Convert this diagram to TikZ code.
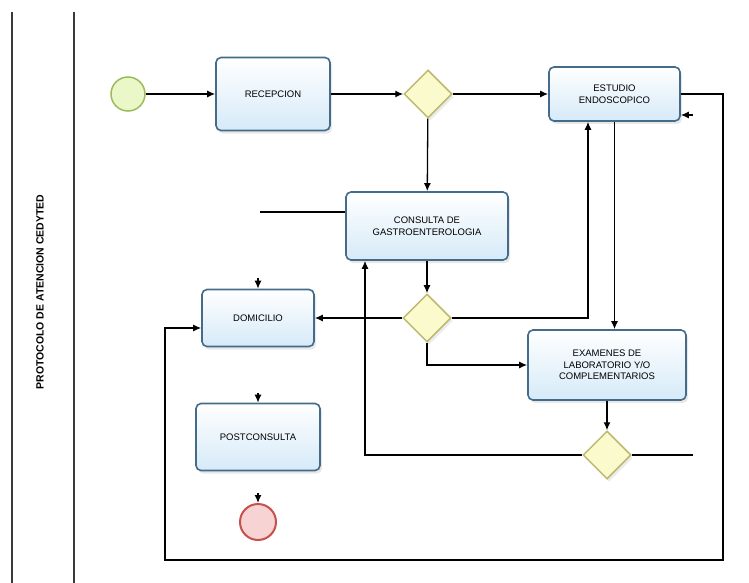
\documentclass[tikz,border=0pt]{standalone}
\usepackage{fontspec}
\setmainfont{Liberation Sans}
\usetikzlibrary{arrows.meta,shapes.geometric,shadows}
\definecolor{taskborder}{HTML}{446C8A}
\definecolor{taskfill}{HTML}{D6EAF8}
\definecolor{gwfill}{HTML}{FAFACC}
\definecolor{gwborder}{HTML}{BDB96E}
\definecolor{stfill}{HTML}{EAF7C9}
\definecolor{stborder}{HTML}{9DBB5B}
\definecolor{enfill}{HTML}{F8D3D3}
\definecolor{enborder}{HTML}{C8504A}
\definecolor{lanecol}{HTML}{3A3A3A}
\begin{document}
\begin{tikzpicture}[x=1pt,y=-1pt,
  task/.style={draw=taskborder, line width=1.6pt, rounded corners=5pt,
    top color=white, bottom color=taskfill, align=center, inner sep=0pt,
    font=\fontsize{9.5}{11.5}\selectfont,
    drop shadow={opacity=0.18, shadow xshift=2pt, shadow yshift=-3pt}},
  gateway/.style={diamond, draw=gwborder, line width=1.5pt, fill=gwfill,
    minimum width=48pt, minimum height=48pt, inner sep=0pt,
    drop shadow={opacity=0.15, shadow xshift=2pt, shadow yshift=-3pt}},
  startev/.style={circle, draw=stborder, line width=1.5pt, fill=stfill,
    minimum size=34pt, inner sep=0pt},
  endev/.style={circle, draw=enborder, line width=2pt, fill=enfill,
    minimum size=36pt, inner sep=0pt},
  flow/.style={draw=black, line width=1.3pt, -{Latex[length=8pt,width=7pt]}},
  plain/.style={draw=black, line width=1.3pt},
  lane/.style={draw=lanecol, line width=1.8pt}]
\useasboundingbox (0,0) rectangle (749,583);
\fill[white] (0,0) rectangle (749,583);

% lane
\draw[lane] (12,12) -- (12,583);
\draw[lane] (74,12) -- (74,583);
\node[rotate=90, font=\bfseries\fontsize{10.5}{12}\selectfont] (lanetitle) at (40,292) {PROTOCOLO DE ATENCION CEDYTED};

% nodes
\node[startev] (start) at (128,94) {};
\node[task, minimum width=114pt, minimum height=73pt] (rec) at (273,94) {RECEPCION};
\node[gateway] (g1) at (428,94) {};
\node[task, minimum width=131pt, minimum height=54pt] (est) at (614.5,94) {ESTUDIO\\ENDOSCOPICO};
\node[task, minimum width=162pt, minimum height=68pt] (cons) at (427,226) {CONSULTA DE\\GASTROENTEROLOGIA};
\node[task, minimum width=112pt, minimum height=57pt] (dom) at (258,318) {DOMICILIO};
\node[gateway] (g2) at (427,318) {};
\node[task, minimum width=158pt, minimum height=70pt] (exa) at (607,365) {EXAMENES DE\\LABORATORIO Y/O\\COMPLEMENTARIOS};
\node[gateway] (g3) at (607,455) {};
\node[task, minimum width=124pt, minimum height=67pt] (post) at (258,437) {POSTCONSULTA};
\node[endev] (end) at (258,522) {};

% free ends
\coordinate (rr) at (723,94);
\coordinate (rb) at (723,560);
\coordinate (lb) at (165,560);
\coordinate (g3free) at (693,455);
\coordinate (consfree) at (260,212);
\coordinate (domstub) at (258,278);
\coordinate (poststub) at (258,393);
\coordinate (endstub) at (258,493);
\coordinate (eststub) at (693,115);

% connectors
\draw[flow] (start) -- (rec);
\draw[flow] (rec) -- (g1);
\draw[flow] (g1) -- (est);
\draw[flow] (g1) -- (cons);
\draw[flow] (est.east) -- (rr) -- (rb) -- (lb) |- ([yshift=-10pt]dom.west);
\draw[flow] (est.south) -- (est.south |- exa.north);
\draw[flow] (g2.east) -| ([xshift=-26.5pt]est.south);
\draw[flow] (cons) -- (g2);
\draw[flow] (g2) -- (dom);
\draw[flow] (g2.south) |- (exa.west);
\draw[flow] (exa) -- (g3);
\draw[flow] (g3.west) -| ([xshift=-62pt]cons.south);
\draw[plain] (g3.east) -- (g3free);
\draw[plain] (cons.west |- consfree) -- (consfree);
\draw[flow] (domstub) -- (dom.north);
\draw[flow] (poststub) -- (post.north);
\draw[flow] (endstub) -- (end.north);
\draw[flow] (eststub) -- (eststub -| est.east);
\end{tikzpicture}
\end{document}
